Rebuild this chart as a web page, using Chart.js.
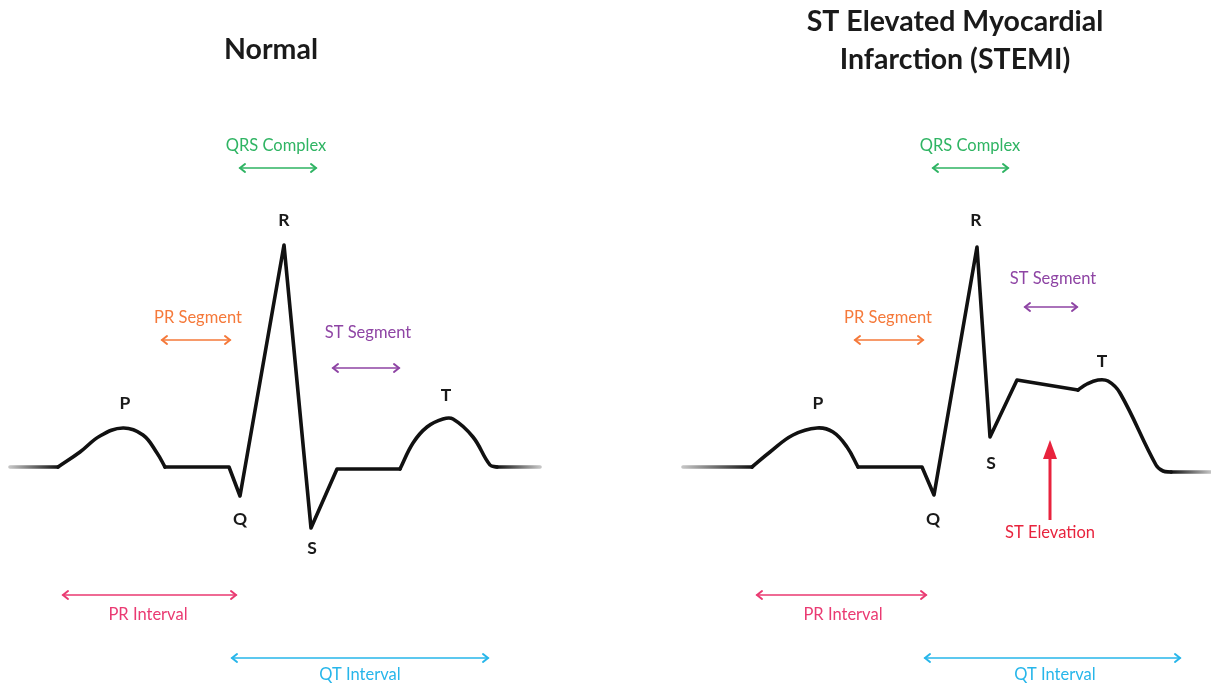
<!DOCTYPE html>
<html>
<head>
<meta charset="utf-8">
<script src="https://cdn.jsdelivr.net/npm/chart.js@4.4.1/dist/chart.umd.min.js"></script>
<style>
  html, body { margin: 0; padding: 0; background: #ffffff; overflow: hidden; }
  #wrap { width: 1211px; height: 686px; display: flex; }
  canvas { display: block; }
</style>
</head>
<body>
<div id="wrap">
  <canvas id="normal" width="606" height="686"></canvas>
  <canvas id="stemi" width="605" height="686"></canvas>
</div>
<script>
// ---- Data: time (ms) and voltage (mV) of each traced waveform ----
const normalTime = [20, 116, 160, 200, 246, 286, 314, 330, 458, 480, 568, 622, 674, 800, 826, 854, 886, 906, 946, 980, 994, 1080];
const normalVolt = [0, 0, 0.15, 0.31, 0.39, 0.32, 0.14, 0, 0, -0.29, 2.22, -0.61, -0.02, -0.02, 0.24, 0.40, 0.48, 0.48, 0.30, 0.02, 0, 0];

const stemiTime = [154, 292, 328, 374, 422, 454, 482, 504, 632, 656, 742, 768, 822, 944, 962, 984, 1004, 1028, 1100, 1114, 1130, 1210];
const stemiVolt = [0, 0, 0.15, 0.32, 0.39, 0.35, 0.20, 0, 0, -0.28, 2.20, 0.30, 0.87, 0.77, 0.83, 0.87, 0.86, 0.74, 0.02, -0.04, -0.05, -0.05];

// Portions of each trace: [fromIndex, toIndex, kind]
const traceParts = [[0, 1, 'fadeIn'], [1, 7, 'curve'], [7, 13, 'straight'], [13, 20, 'curve'], [20, 21, 'fadeOut']];

// Interval annotations: start / end time (ms)
const normalIntervals = {
  qrs: [480, 632], prSeg: [324, 460], stSeg: [666, 798], prInt: [126, 472], qtInt: [464, 976]
};
const stemiIntervals = {
  qrs: [654, 804], prSeg: [498, 634], stSeg: [838, 942], prInt: [302, 640], qtInt: [638, 1148]
};

const COLORS = {
  trace: '#111111', fade: '#c4c4c4', qrs: '#2fb463', prSeg: '#f5793a', stSeg: '#8e44a4',
  prInt: '#ea3a72', qtInt: '#27b6ea', stElev: '#e8233d', text: '#1a1a1a'
};
const FONT = 'Lato, "Open Sans", sans-serif';

function buildDatasets(times, volts) {
  return traceParts.map(([a, b, kind]) => {
    const pts = [];
    for (let i = a; i <= b; i++) pts.push({ x: times[i], y: volts[i] });
    const ds = {
      data: pts, showLine: true, pointRadius: 0, borderWidth: 3.6,
      borderCapStyle: 'round', borderJoinStyle: 'round', fill: false,
      tension: kind === 'curve' ? 0.4 : 0,
      borderColor: COLORS.trace
    };
    if (kind === 'fadeIn' || kind === 'fadeOut') {
      ds.borderColor = (ctx) => {
        const chart = ctx.chart;
        if (!chart.chartArea) return COLORS.trace;
        const xs = chart.scales.x;
        const x0 = xs.getPixelForValue(times[a]);
        const x1 = xs.getPixelForValue(times[b]);
        const g = chart.ctx.createLinearGradient(x0, 0, x1, 0);
        if (kind === 'fadeIn') { g.addColorStop(0, COLORS.fade); g.addColorStop(1, COLORS.trace); }
        else { g.addColorStop(0, COLORS.trace); g.addColorStop(1, COLORS.fade); }
        return g;
      };
    }
    return ds;
  });
}

function dblArrow(c, x0, x1, y, color) {
  c.save();
  c.strokeStyle = color; c.lineWidth = 1.6; c.lineCap = 'round';
  c.beginPath(); c.moveTo(x0, y); c.lineTo(x1, y); c.stroke();
  const h = 5;
  c.lineWidth = 2;
  c.beginPath();
  c.moveTo(x0 + h, y - h * 0.8); c.lineTo(x0, y); c.lineTo(x0 + h, y + h * 0.8);
  c.moveTo(x1 - h, y - h * 0.8); c.lineTo(x1, y); c.lineTo(x1 - h, y + h * 0.8);
  c.stroke();
  c.restore();
}

function txt(c, s, x, y, color, size, weight) {
  c.save();
  c.fillStyle = color;
  c.font = `${weight || 'normal'} ${size}px ${FONT}`;
  c.textAlign = 'center'; c.textBaseline = 'middle';
  c.fillText(s, x, y);
  c.restore();
}

function makeAnnotations(spec) {
  return {
    id: 'ecgNotes',
    afterDatasetsDraw(chart) {
      const c = chart.ctx, xs = chart.scales.x, ys = chart.scales.y;
      const X = v => xs.getPixelForValue(v), Y = v => ys.getPixelForValue(v);
      spec.titles.forEach(t => txt(c, t[0], X(t[1]), Y(t[2]), COLORS.text, 28.5, 'bold'));
      spec.letters.forEach(t => txt(c, t[0], X(t[1]), Y(t[2]), COLORS.text, 17.5, 'bold'));
      spec.spans.forEach(s => {
        const [key, label, lx, ly, ay] = s;
        const r = spec.intervals[key];
        txt(c, label, X(lx), Y(ly), COLORS[key], 16.5, 'normal');
        dblArrow(c, X(r[0]), X(r[1]), Y(ay), COLORS[key]);
      });
      if (spec.elevation) {
        const e = spec.elevation;
        const x = X(e.x), yb = Y(e.from), yt = Y(e.to);
        c.save();
        c.strokeStyle = COLORS.stElev; c.fillStyle = COLORS.stElev; c.lineWidth = 3;
        c.beginPath(); c.moveTo(x, yb); c.lineTo(x, yt + 16); c.stroke();
        c.beginPath(); c.moveTo(x, yt); c.lineTo(x - 7, yt + 19); c.lineTo(x + 7, yt + 19); c.closePath(); c.fill();
        c.restore();
        txt(c, e.label, X(e.lx), Y(e.ly), COLORS.stElev, 16.5, 'normal');
      }
    }
  };
}

function makeChart(id, times, volts, xMax, spec) {
  return new Chart(document.getElementById(id), {
    type: 'scatter',
    data: { datasets: buildDatasets(times, volts) },
    options: {
      responsive: false, animation: false, devicePixelRatio: 1,
      layout: { padding: 0 },
      plugins: { legend: { display: false }, tooltip: { enabled: false }, title: { display: false } },
      scales: {
        x: { type: 'linear', min: 0, max: xMax, display: false },
        y: { type: 'linear', min: -2.19, max: 4.67, display: false }
      }
    },
    plugins: [makeAnnotations(spec)]
  });
}

makeChart('normal', normalTime, normalVolt, 1212, {
  intervals: normalIntervals,
  titles: [['Normal', 542, 4.17]],
  letters: [['R', 568, 2.47], ['P', 250, 0.64], ['T', 892, 0.72], ['Q', 480, -0.52], ['S', 624, -0.81]],
  spans: [
    ['qrs', 'QRS Complex', 552, 3.21, 2.99],
    ['prSeg', 'PR Segment', 396, 1.49, 1.27],
    ['stSeg', 'ST Segment', 736, 1.34, 0.99],
    ['prInt', 'PR Interval', 296, -1.48, -1.28],
    ['qtInt', 'QT Interval', 720, -2.08, -1.91]
  ]
});

makeChart('stemi', stemiTime, stemiVolt, 1210, {
  intervals: stemiIntervals,
  titles: [['ST Elevated Myocardial', 698, 4.45], ['Infarction (STEMI)', 698, 4.07]],
  letters: [['R', 740, 2.47], ['P', 424, 0.64], ['T', 992, 1.06], ['Q', 654, -0.52], ['S', 770, 0.04]],
  spans: [
    ['qrs', 'QRS Complex', 728, 3.21, 2.99],
    ['prSeg', 'PR Segment', 564, 1.49, 1.27],
    ['stSeg', 'ST Segment', 894, 1.88, 1.60],
    ['prInt', 'PR Interval', 474, -1.48, -1.28],
    ['qtInt', 'QT Interval', 898, -2.08, -1.91]
  ],
  elevation: { x: 888, from: -0.53, to: 0.27, label: 'ST Elevation', lx: 888, ly: -0.66 }
});
</script>
</body>
</html>
